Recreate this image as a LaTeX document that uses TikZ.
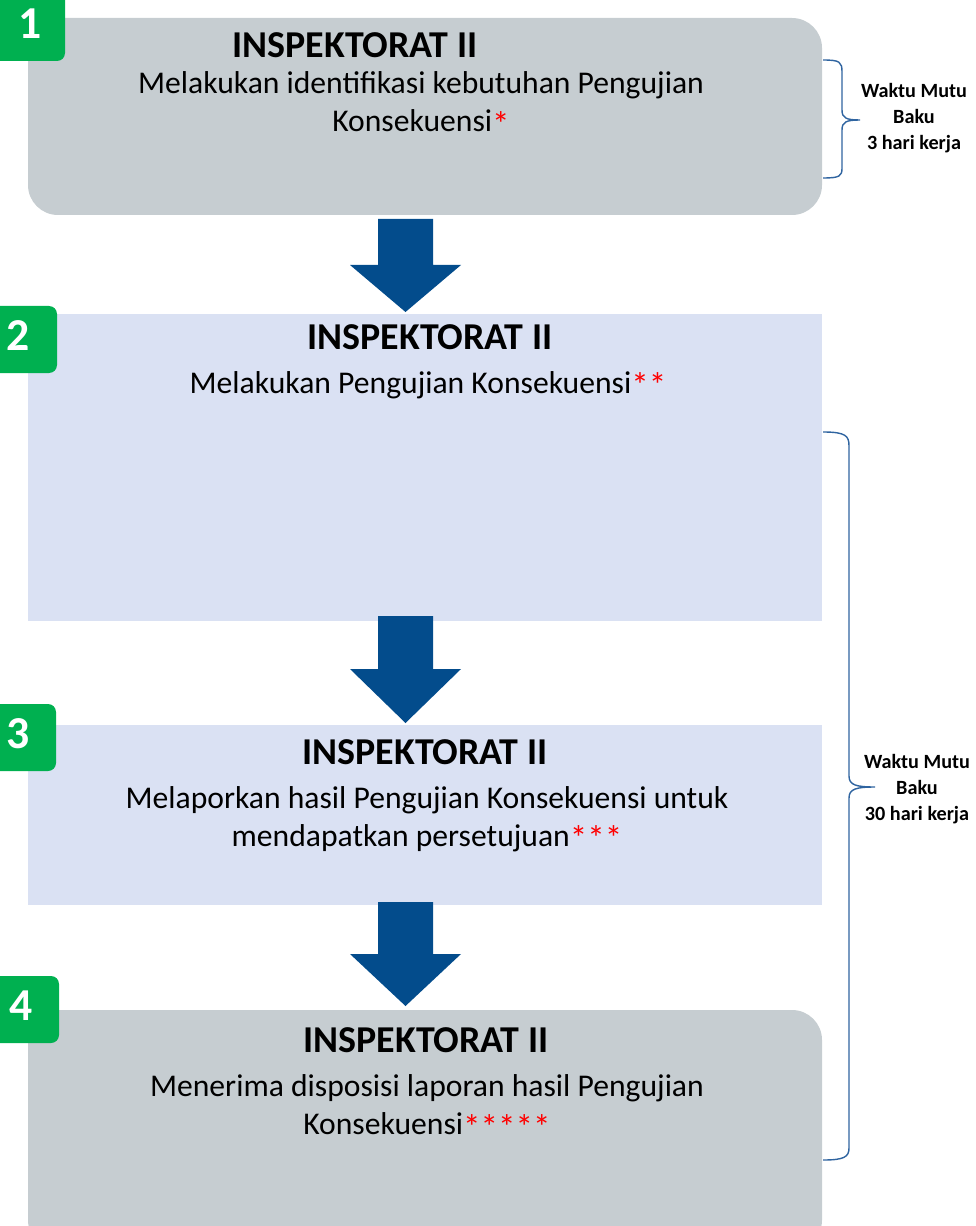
\documentclass[tikz,border=0pt]{standalone}
\usepackage{fontspec}
\setmainfont{Carlito}

\definecolor{boxgray}{HTML}{C6CDD1}
\definecolor{boxblue}{HTML}{DAE1F3}
\definecolor{badgegreen}{HTML}{00B050}
\definecolor{arrowblue}{HTML}{034C8C}
\definecolor{bracecol}{HTML}{2F64A0}

\tikzset{
	badge/.style={fill=badgegreen, rounded corners=0.16cm},
	numtext/.style={text=white, font=\fontsize{26}{30}\selectfont\bfseries},
	titletext/.style={font=\fontsize{21.6}{26}\selectfont\bfseries},
	desctext/.style={font=\fontsize{18}{21.5}\selectfont, align=center},
	waktutext/.style={font=\fontsize{11.5}{14.7}\selectfont\bfseries, align=center},
	bigarrow/.style={fill=arrowblue},
	timebrace/.style={draw=bracecol, line width=0.8pt}
}
\newcommand{\redstar}[1]{\textcolor{red}{\fontsize{20}{21.5}\selectfont\raisebox{-2.5pt}{#1}}}

\begin{document}
\begin{tikzpicture}[x=0.02cm, y=-0.02cm]
			%%%%% START %%%%%
			\useasboundingbox (0, 0) rectangle (976, 1226);
			
			% boxes
			\fill[boxgray, rounded corners=0.6cm] (28, 18) rectangle (822, 215);
			\fill[boxblue] (28, 314) rectangle (822, 621);
			\fill[boxblue] (28, 725) rectangle (822, 905);
			\fill[boxgray, rounded corners=0.6cm] (28, 1010) rectangle (822, 1250);
			
			% arrows
			\fill[bigarrow] (378, 219) -- (433, 219) -- (433, 265) -- (461, 265) -- (405.5, 312) -- (350, 265) -- (378, 265) -- cycle;
			\fill[bigarrow] (378, 616) -- (433, 616) -- (433, 669) -- (461, 669) -- (405.5, 723) -- (350, 669) -- (378, 669) -- cycle;
			\fill[bigarrow] (378, 902) -- (433, 902) -- (433, 954) -- (461, 954) -- (405.5, 1006) -- (350, 954) -- (378, 954) -- cycle;
			
			% badges
			\fill[badge] (-10, -10) rectangle (65, 61);
			\node[numtext] (n1) at (30, 24) {1};
			\fill[badge] (-10, 306) rectangle (57, 373);
			\node[numtext] (n2) at (18, 336) {2};
			\fill[badge] (-10, 704) rectangle (56, 771);
			\node[numtext] (n3) at (18, 734) {3};
			\fill[badge] (-10, 976) rectangle (59, 1043);
			\node[numtext] (n4) at (21, 1006) {4};
			
			% texts
			\node[titletext] (t1) at (355, 45) {INSPEKTORAT II};
			\node[desctext] (d1) at (421, 104) {Melakukan identifikasi kebutuhan Pengujian\\Konsekuensi\redstar{*}};
			
			\node[titletext] (t2) at (430, 337) {INSPEKTORAT II};
			\node[desctext] (d2) at (428, 385) {Melakukan Pengujian Konsekuensi\redstar{**}};
			
			\node[titletext] (t3) at (425, 752) {INSPEKTORAT II};
			\node[desctext] (d3) at (427, 819) {Melaporkan hasil Pengujian Konsekuensi untuk\\mendapatkan persetujuan\redstar{***}};
			
			\node[titletext] (t4) at (426, 1040) {INSPEKTORAT II};
			\node[desctext] (d4) at (427, 1107) {Menerima disposisi laporan hasil Pengujian\\Konsekuensi\redstar{*****}};
			
			% braces
			\coordinate (ba) at (823, 60);
			\coordinate (bt) at (860, 120);
			\coordinate (bb) at (823, 178);
			\draw[timebrace] (ba) .. controls (840, 60) and (842, 62) .. (842, 72) -- (842, 110)
				.. controls (842, 118) and (846, 120) .. (bt)
				.. controls (846, 120) and (842, 122) .. (842, 130) -- (842, 168)
				.. controls (842, 176) and (840, 178) .. (bb);
			\node[waktutext] (w1) at (914, 118) {Waktu Mutu\\Baku\\3 hari kerja};
			
			\coordinate (bc) at (823, 432);
			\coordinate (bu) at (875, 787);
			\coordinate (bd) at (823, 1160);
			\draw[timebrace] (bc) .. controls (846, 432) and (849, 436) .. (849, 446) -- (849, 776)
				.. controls (849, 785) and (856, 787) .. (bu)
				.. controls (856, 787) and (849, 789) .. (849, 798) -- (849, 1148)
				.. controls (849, 1157) and (844, 1160) .. (bd);
			\node[waktutext] (w2) at (917, 789) {Waktu Mutu\\Baku\\30 hari kerja};
			
			%%%%% END %%%%%
\end{tikzpicture}
\end{document}
